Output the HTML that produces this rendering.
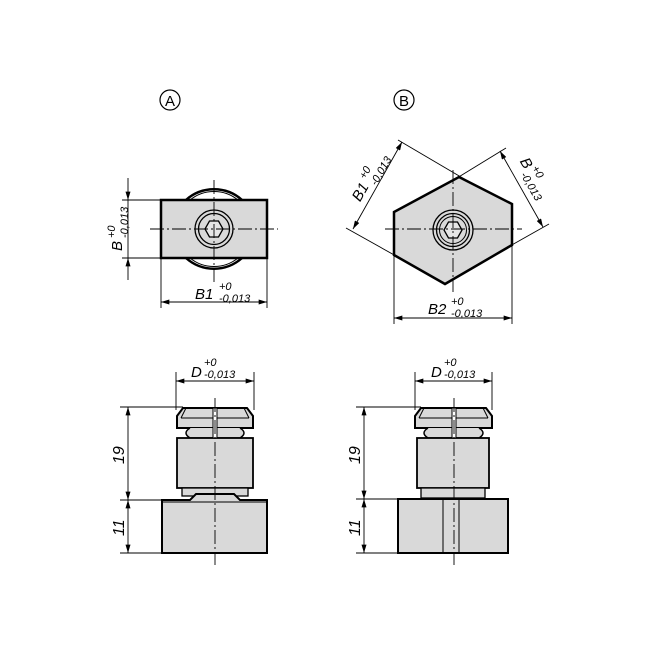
<!DOCTYPE html>
<html><head><meta charset="utf-8"><style>
html,body{margin:0;padding:0;background:#fff}
svg{display:block}
text{font-family:"Liberation Sans",sans-serif;font-style:italic;fill:#000}
</style></head><body>
<svg width="654" height="654" viewBox="0 0 654 654" xmlns="http://www.w3.org/2000/svg">
<defs>
<marker id="a" viewBox="0 0 10 6" refX="10" refY="3" markerWidth="10" markerHeight="5" orient="auto-start-reverse" markerUnits="userSpaceOnUse"><path d="M0,0 L10,3 L0,6z" fill="#000"/></marker>
</defs>
<g fill="none" stroke="#000" stroke-width="1.2">
<circle cx="170" cy="100" r="10"/><circle cx="404" cy="100" r="10"/>
</g>
<text x="170" y="106" font-size="15" text-anchor="middle" style="font-style:normal">A</text>
<text x="404" y="106" font-size="15" text-anchor="middle" style="font-style:normal">B</text>

<!-- Top view A -->
<g stroke="#000" fill="none">
<path d="M186,200 A42,42 0 0 1 242,200" stroke-width="2.5"/>
<path d="M190,200 A38,38 0 0 1 238,200" stroke-width="1"/>
<path d="M186,258 A42,42 0 0 0 242,258" stroke-width="2.5"/>
<path d="M190,258 A38,38 0 0 0 238,258" stroke-width="1"/>
<rect x="161" y="200" width="106" height="58" fill="#d9d9d9" stroke-width="2.5"/>
<circle cx="214" cy="229" r="19" fill="#d9d9d9" stroke-width="1.3"/>
<circle cx="214" cy="229" r="15.5" stroke-width="1.3"/>
<polygon points="205,229 209.5,221 218.5,221 223,229 218.5,237 209.5,237" stroke-width="1.3" fill="#e6e6e6"/>
<g stroke-width="0.9" stroke-dasharray="14,3,2,3">
<line x1="150" y1="229" x2="278" y2="229"/><line x1="214" y1="180" x2="214" y2="282"/>
</g>
<g stroke-width="0.9">
<line x1="122" y1="200" x2="161" y2="200"/><line x1="122" y1="258" x2="161" y2="258"/>
<line x1="128" y1="178" x2="128" y2="200" marker-end="url(#a)"/>
<line x1="128" y1="280" x2="128" y2="258" marker-end="url(#a)"/>
<line x1="128" y1="200" x2="128" y2="258"/>
<line x1="161" y1="258" x2="161" y2="308"/><line x1="267" y1="258" x2="267" y2="308"/>
<line x1="161" y1="302" x2="267" y2="302" marker-start="url(#a)" marker-end="url(#a)"/>
</g>
</g>
<g transform="translate(122,229) rotate(-90)"><text x="-22" y="0" font-size="15">B</text><text x="-9" y="-7" font-size="11">+0</text><text x="-9" y="6" font-size="11">-0,013</text></g>
<text x="195" y="299" font-size="15">B1</text><text x="219" y="290" font-size="11">+0</text><text x="219" y="302" font-size="11">-0,013</text>

<!-- Top view B -->
<g stroke="#000" fill="none">
<polygon points="459,177 512,204 512,245 445,284 394,255 394,212" fill="#d9d9d9" stroke-width="2.5"/>
<circle cx="453" cy="230" r="20" fill="#d9d9d9" stroke-width="1.3"/>
<circle cx="453" cy="230" r="16.5" stroke-width="1.3"/>
<circle cx="453" cy="230" r="13.5" stroke-width="1"/>
<polygon points="444,230 448.5,222 457.5,222 462,230 457.5,238 448.5,238" stroke-width="1.3" fill="#e6e6e6"/>
<g stroke-width="0.9" stroke-dasharray="14,3,2,3">
<line x1="385" y1="229" x2="522" y2="229"/><line x1="453" y1="170" x2="453" y2="292"/>
</g>
<g stroke-width="0.9">
<line x1="398" y1="140" x2="466" y2="180"/><line x1="346" y1="228" x2="396" y2="256"/>
<line x1="353" y1="229" x2="402" y2="142" marker-start="url(#a)" marker-end="url(#a)"/>
<line x1="457" y1="178" x2="506" y2="148"/><line x1="510" y1="246" x2="549" y2="224"/>
<line x1="500" y1="151" x2="543" y2="227" marker-start="url(#a)" marker-end="url(#a)"/>
<line x1="394" y1="255" x2="394" y2="324"/><line x1="512" y1="245" x2="512" y2="324"/>
<line x1="394" y1="318" x2="512" y2="318" marker-start="url(#a)" marker-end="url(#a)"/>
</g>
</g>
<g transform="translate(370,185) rotate(-60)"><text x="-20" y="0" font-size="15">B1</text><text x="2" y="-7" font-size="11">+0</text><text x="2" y="6" font-size="11">-0,013</text></g>
<g transform="translate(528,176) rotate(60)"><text x="-17" y="0" font-size="15">B</text><text x="-5" y="-7" font-size="11">+0</text><text x="-5" y="6" font-size="11">-0,013</text></g>
<text x="428" y="314" font-size="15">B2</text><text x="451" y="305" font-size="11">+0</text><text x="451" y="317" font-size="11">-0,013</text>

<g stroke="#000">
<!-- left side -->
<path d="M183,408 L247,408 L253,416 L253,428 L177,428 L177,416 Z" fill="#d9d9d9" stroke-width="2"/>
<path d="M181,418 L249,418 M186,408 L181,418 M244,408 L249,418" fill="none" stroke-width="1"/>
<path d="M190,428 Q182,433 190,438 L240,438 Q248,433 240,428" fill="#d9d9d9" stroke-width="1.5"/>
<rect x="177" y="438" width="76" height="50" fill="#d9d9d9" stroke-width="1.8"/>
<rect x="182" y="488" width="66" height="8" fill="#d9d9d9" stroke-width="1.3"/>
<path d="M162,500 L190,500 L196,494 L234,494 L240,500 L267,500 L267,553 L162,553 Z" fill="#d9d9d9" stroke-width="2"/>
<line x1="162" y1="502" x2="267" y2="502" stroke-width="1"/>
<rect x="213" y="408" width="4" height="30" fill="#fff" stroke-width="1"/>
<line x1="215" y1="398" x2="215" y2="565" stroke-width="0.9" stroke-dasharray="14,3,2,3" fill="none"/>
<g stroke-width="0.9" fill="none">
<line x1="120" y1="407" x2="183" y2="407"/><line x1="120" y1="500" x2="162" y2="500"/><line x1="120" y1="553" x2="162" y2="553"/>
<line x1="128" y1="407" x2="128" y2="500" marker-start="url(#a)" marker-end="url(#a)"/>
<line x1="128" y1="500" x2="128" y2="553" marker-start="url(#a)" marker-end="url(#a)"/>
<line x1="176" y1="372" x2="176" y2="410"/><line x1="254" y1="372" x2="254" y2="410"/>
<line x1="176" y1="381" x2="254" y2="381" marker-start="url(#a)" marker-end="url(#a)"/>
</g>
<!-- right side -->
<path d="M421,408 L486,408 L492,416 L492,428 L415,428 L415,416 Z" fill="#d9d9d9" stroke-width="2"/>
<path d="M419,418 L488,418 M424,408 L419,418 M483,408 L488,418" fill="none" stroke-width="1"/>
<path d="M428,428 Q420,433 428,438 L479,438 Q487,433 479,428" fill="#d9d9d9" stroke-width="1.5"/>
<rect x="417" y="438" width="72" height="50" fill="#d9d9d9" stroke-width="1.8"/>
<rect x="421" y="488" width="64" height="10" fill="#d9d9d9" stroke-width="1.3"/>
<rect x="398" y="499" width="110" height="54" fill="#d9d9d9" stroke-width="2"/>
<line x1="443" y1="499" x2="443" y2="553" stroke-width="1"/><line x1="459" y1="499" x2="459" y2="553" stroke-width="1"/>
<rect x="452" y="408" width="4" height="30" fill="#fff" stroke-width="1"/>
<line x1="454" y1="398" x2="454" y2="565" stroke-width="0.9" stroke-dasharray="14,3,2,3" fill="none"/>
<g stroke-width="0.9" fill="none">
<line x1="356" y1="407" x2="421" y2="407"/><line x1="356" y1="499" x2="398" y2="499"/><line x1="356" y1="553" x2="398" y2="553"/>
<line x1="364" y1="407" x2="364" y2="499" marker-start="url(#a)" marker-end="url(#a)"/>
<line x1="364" y1="499" x2="364" y2="553" marker-start="url(#a)" marker-end="url(#a)"/>
<line x1="415" y1="372" x2="415" y2="410"/><line x1="492" y1="372" x2="492" y2="410"/>
<line x1="415" y1="381" x2="492" y2="381" marker-start="url(#a)" marker-end="url(#a)"/>
</g>
</g>
<text x="191" y="377" font-size="15">D</text><text x="204" y="366" font-size="11">+0</text><text x="204" y="378" font-size="11">-0,013</text>
<text x="431" y="377" font-size="15">D</text><text x="444" y="366" font-size="11">+0</text><text x="444" y="378" font-size="11">-0,013</text>
<g font-size="16">
<text transform="translate(124,464) rotate(-90)">19</text>
<text transform="translate(124,536) rotate(-90)">11</text>
<text transform="translate(360,464) rotate(-90)">19</text>
<text transform="translate(360,536) rotate(-90)">11</text>
</g>
</svg>
</body></html>
